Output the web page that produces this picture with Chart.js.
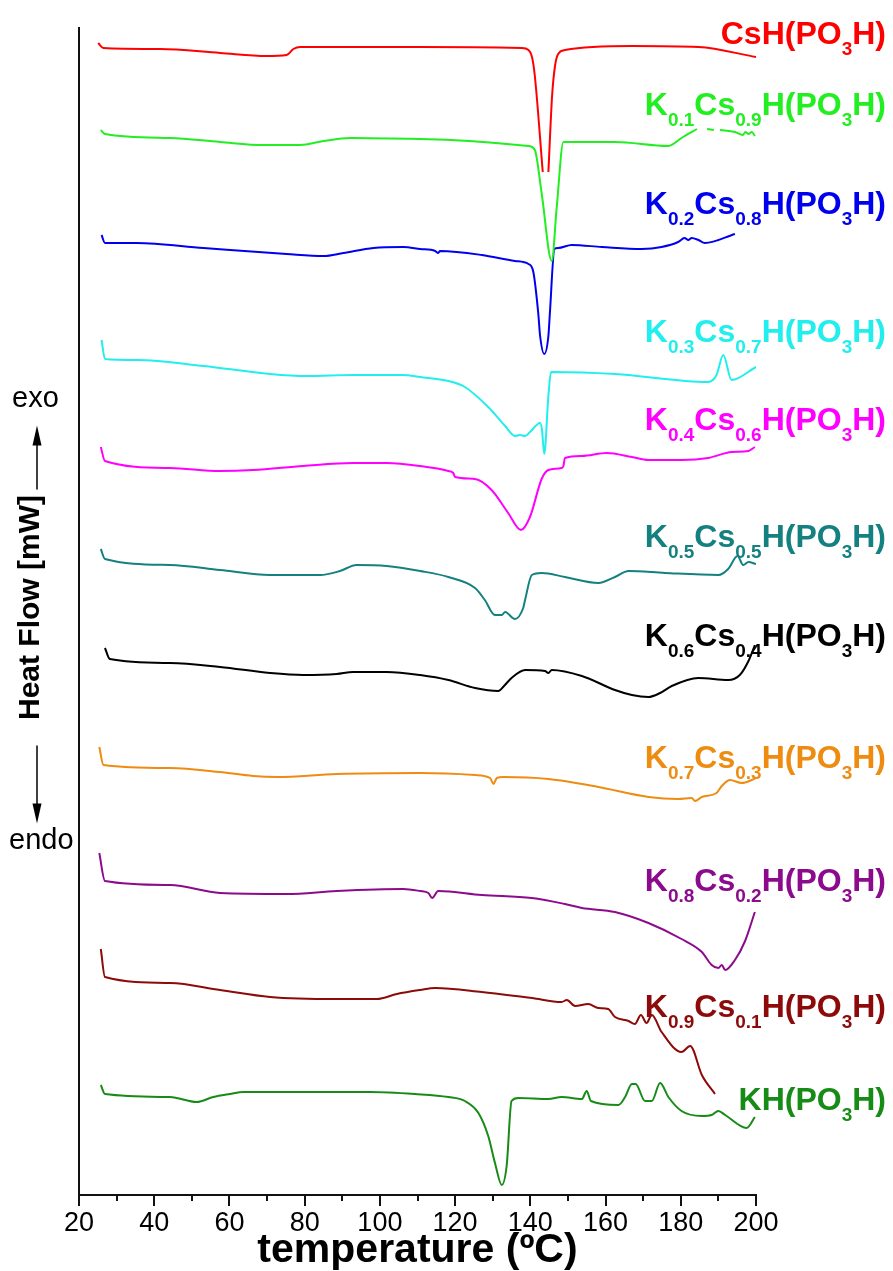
<!DOCTYPE html>
<html>
<head>
<meta charset="utf-8">
<script src="https://cdn.jsdelivr.net/npm/chart.js@4.4.1/dist/chart.umd.min.js"></script>
<style>
  html, body { margin: 0; padding: 0; background: #ffffff; }
  #wrap { width: 893px; height: 1271px; }
</style>
</head>
<body>
<div id="wrap"><canvas id="dsc" width="893" height="1271"></canvas></div>
<script>
// DSC heating curves of K(x)Cs(1-x)H(PO3H): [temperature °C, heat flow (stacked, arbitrary offset)]
// a null heat-flow value leaves a gap in the trace
const CsH = [[25.1,115.5],[26.5,115.0],[41.5,114.9],[57.5,114.5],[69.9,114.2],[75.2,114.3],[77.0,114.9],[78.8,115.1],[110.7,115.1],[137.7,115.0],[139.5,114.8],[140.5,114.0],[141.2,112.2],[143.3,102.6],[144.0,null],[144.8,102.6],[145.8,110.3],[146.6,113.3],[147.4,114.4],[149.2,114.8],[167.0,115.2],[184.7,115.1],[200.0,114.1]];
const K01 = [[25.8,106.8],[26.9,106.4],[44.2,106.0],[57.5,105.6],[69.0,105.3],[78.8,105.3],[85.0,105.7],[92.1,106.0],[110.7,105.9],[139.5,105.2],[141.2,104.8],[143.0,100.5],[145.7,93.7],[147.0,99.0],[148.8,105.6],[162.5,105.6],[176.7,105.2],[180.2,106.0],[184.3,106.9],[185.5,null],[187.0,106.9],[188.8,106.8],[189.6,null],[190.4,106.8],[194.4,106.6],[196.5,106.3],[197.2,106.6],[198.0,106.4],[198.9,106.6],[199.7,106.2]];
const K02 = [[26.0,96.3],[26.9,95.5],[35.3,95.5],[53.1,95.0],[75.2,94.4],[85.0,94.2],[90.3,94.5],[98.3,95.0],[106.2,95.1],[110.7,94.9],[114.7,94.7],[115.5,94.5],[116.0,94.7],[127.1,94.3],[135.9,93.7],[139.5,93.4],[140.8,92.6],[142.1,88.5],[142.6,86.2],[143.7,84.4],[144.8,86.2],[145.2,88.5],[146.4,94.9],[147.4,95.0],[151.0,95.3],[159.0,95.1],[169.6,94.9],[174.9,95.1],[179.3,95.6],[181.0,96.0],[182.0,95.8],[182.9,96.0],[184.7,95.8],[186.4,95.5],[194.4,96.4]];
const K03 = [[26.0,85.8],[26.9,83.9],[35.3,83.8],[53.1,83.2],[70.8,82.4],[80.5,82.2],[92.9,82.3],[106.2,82.3],[110.7,82.1],[118.2,81.7],[122.6,81.1],[128.8,79.1],[133.3,77.2],[135.9,76.2],[137.2,76.3],[138.6,76.2],[139.9,76.6],[142.6,77.5],[143.1,76.8],[143.7,74.4],[144.8,80.2],[145.5,82.6],[162.5,82.4],[187.3,81.6],[189.5,82.3],[191.3,84.3],[193.5,81.8],[200.0,83.1]];
const K04 = [[25.8,75.1],[26.9,73.7],[44.2,73.0],[57.5,72.7],[66.3,72.8],[79.6,73.2],[92.9,73.5],[101.8,73.5],[110.7,73.2],[118.2,72.7],[119.5,72.5],[120.0,72.1],[125.3,71.9],[129.7,70.8],[134.1,68.5],[137.5,66.8],[139.9,68.1],[143.0,71.9],[144.8,72.8],[148.3,73.0],[148.8,73.2],[149.2,74.0],[153.7,74.2],[160.3,74.5],[167.0,74.1],[171.4,73.8],[180.2,73.8],[187.3,74.0],[193.5,74.6],[198.0,74.7],[199.7,75.1]];
const K05 = [[25.8,64.9],[26.9,63.9],[44.2,63.3],[57.5,62.8],[70.8,62.3],[84.1,62.3],[89.4,62.7],[93.8,63.3],[101.8,63.2],[110.7,62.7],[118.2,62.1],[125.3,61.0],[127.9,59.8],[130.6,58.3],[132.4,58.3],[133.3,58.6],[135.9,57.9],[138.1,59.0],[138.6,59.8],[140.4,62.3],[143.0,62.5],[149.2,62.1],[158.1,61.5],[162.5,62.1],[166.1,62.7],[175.8,62.5],[190.0,62.3],[192.6,62.9],[195.1,64.2],[196.6,63.3],[198.0,63.6],[200.0,63.4]];
const K06 = [[26.9,55.0],[28.2,53.9],[44.2,53.5],[57.5,53.1],[70.8,52.5],[79.6,52.3],[88.5,52.4],[92.9,52.6],[101.8,52.6],[110.7,52.3],[118.2,51.8],[125.3,51.0],[131.5,50.7],[133.0,51.2],[135.0,52.0],[138.6,52.8],[143.9,52.7],[144.8,52.5],[145.7,52.8],[153.7,52.2],[162.5,50.8],[167.0,50.3],[171.4,50.1],[174.5,50.5],[177.6,51.2],[184.7,52.0],[192.6,51.8],[195.7,52.3],[198.0,53.7],[199.7,55.3]];
const K07 = [[25.4,45.1],[26.5,43.3],[44.2,43.0],[57.5,42.6],[66.3,42.2],[72.6,42.1],[88.5,42.4],[110.7,42.5],[125.3,42.3],[129.3,42.0],[130.2,41.4],[131.1,42.0],[132.8,42.1],[144.8,41.9],[158.1,41.1],[171.4,40.1],[179.3,39.9],[182.9,40.0],[183.8,39.7],[185.6,40.1],[189.5,40.5],[190.9,41.2],[193.1,41.8],[196.2,41.5],[198.9,41.8],[200.0,42.0]];
const K08 = [[25.4,34.5],[26.9,31.7],[44.2,31.3],[57.5,30.5],[75.2,30.4],[88.5,30.7],[106.2,30.9],[110.7,30.7],[112.9,30.5],[113.9,30.0],[115.5,30.7],[127.1,30.3],[140.4,30.0],[149.2,29.4],[153.7,29.0],[162.5,28.6],[171.4,27.5],[180.2,25.9],[185.6,24.6],[188.2,23.3],[190.0,23.0],[190.9,23.3],[191.8,22.8],[194.4,23.8],[197.1,25.7],[199.7,28.6]];
const K09 = [[25.8,24.9],[26.9,22.1],[44.2,21.5],[57.5,20.8],[70.8,20.1],[88.5,19.9],[99.2,19.9],[104.5,20.4],[110.7,20.8],[114.7,21.0],[127.1,20.6],[140.4,20.0],[148.3,19.6],[149.7,19.8],[151.9,19.2],[155.4,19.4],[158.1,19.0],[160.7,18.9],[162.5,18.1],[166.1,17.7],[167.8,17.4],[169.4,18.3],[170.9,17.5],[172.3,18.3],[174.9,16.6],[180.2,14.6],[182.5,15.2],[185.6,12.3],[189.1,10.4]];
const KH = [[25.8,11.3],[26.9,10.4],[44.2,10.1],[51.3,9.6],[55.7,10.1],[60.1,10.4],[63.7,10.6],[97.4,10.6],[109.3,10.4],[118.2,10.1],[122.6,9.7],[126.2,8.5],[128.8,6.2],[130.6,3.5],[132.4,1.3],[133.7,3.2],[135.0,9.7],[136.8,10.0],[144.8,9.9],[148.3,10.1],[153.7,9.9],[155.0,10.7],[156.1,9.7],[163.4,9.3],[165.2,10.1],[167.0,11.4],[168.0,11.4],[170.5,9.7],[172.3,9.7],[174.5,11.5],[176.7,10.1],[180.2,8.7],[185.6,8.2],[188.2,8.3],[190.0,8.7],[191.8,8.3],[197.5,7.0],[199.7,8.1]];

// sample names (_{...} marks a subscript) and the heat-flow level each name sits at
const seriesNames = ['CsH(PO_{3}H)', 'K_{0.1}Cs_{0.9}H(PO_{3}H)', 'K_{0.2}Cs_{0.8}H(PO_{3}H)', 'K_{0.3}Cs_{0.7}H(PO_{3}H)',
  'K_{0.4}Cs_{0.6}H(PO_{3}H)', 'K_{0.5}Cs_{0.5}H(PO_{3}H)', 'K_{0.6}Cs_{0.4}H(PO_{3}H)', 'K_{0.7}Cs_{0.3}H(PO_{3}H)',
  'K_{0.8}Cs_{0.2}H(PO_{3}H)', 'K_{0.9}Cs_{0.1}H(PO_{3}H)', 'KH(PO_{3}H)'];
const labelLevels = [115.4, 108.3, 98.4, 85.6, 76.8, 65.1, 55.2, 43.0, 30.7, 18.1, 8.8];

// temperature axis
const xTicks = [20, 40, 60, 80, 100, 120, 140, 160, 180, 200];
const xMinorTicks = [30, 50, 70, 90, 110, 130, 150, 170, 190];

const curves = [CsH, K01, K02, K03, K04, K05, K06, K07, K08, K09, KH];
const seriesColors = ['#ff0000', '#22ee22', '#0000ee', '#22eeee', '#ff00ff', '#148080', '#000000',
  '#ee8c11', '#8c0a8c', '#8c0a0a', '#168c16'];

const FONT = '"Liberation Sans", Arial, Helvetica, sans-serif';

// tick marks on the temperature axis: long at labelled values, short in between
const tickMarks = {
  id: 'tickMarks',
  afterDraw(chart) {
    const { ctx, chartArea, scales: { x } } = chart;
    ctx.save();
    ctx.strokeStyle = '#111';
    ctx.lineWidth = 2;
    const mark = (v, len) => {
      const px = Math.round(x.getPixelForValue(v));
      ctx.beginPath();
      ctx.moveTo(px, chartArea.bottom);
      ctx.lineTo(px, chartArea.bottom + len);
      ctx.stroke();
    };
    xTicks.forEach(v => mark(v, 11));
    xMinorTicks.forEach(v => mark(v, 6));
    ctx.restore();
  }
};

// sample names at the right of each trace, with subscripts
const curveLabels = {
  id: 'curveLabels',
  beforeDatasetsDraw(chart) {
    const { ctx, chartArea, scales: { y } } = chart;
    const mainFont = 'bold 32px ' + FONT;
    const subFont = 'bold 19px ' + FONT;
    ctx.save();
    ctx.textAlign = 'left';
    ctx.textBaseline = 'alphabetic';
    seriesNames.forEach((name, i) => {
      const parts = [];
      const re = /_\{([^}]*)\}/g;
      let last = 0, m;
      while ((m = re.exec(name))) {
        if (m.index > last) parts.push([name.slice(last, m.index), false]);
        parts.push([m[1], true]);
        last = re.lastIndex;
      }
      if (last < name.length) parts.push([name.slice(last), false]);
      let w = 0;
      parts.forEach(p => { ctx.font = p[1] ? subFont : mainFont; w += ctx.measureText(p[0]).width; });
      let px = chartArea.right + 130 - w;
      const base = y.getPixelForValue(labelLevels[i]);
      ctx.fillStyle = seriesColors[i];
      parts.forEach(p => {
        ctx.font = p[1] ? subFont : mainFont;
        ctx.fillText(p[0], px, p[1] ? base + 11 : base);
        px += ctx.measureText(p[0]).width;
      });
    });
    ctx.restore();
  }
};

// heat-flow axis caption with exo / endo arrows
const heatFlowCaption = {
  id: 'heatFlowCaption',
  afterDraw(chart) {
    const { ctx, chartArea } = chart;
    const mid = (chartArea.top + chartArea.bottom) / 2 - 4;
    ctx.save();
    ctx.fillStyle = '#000';
    ctx.strokeStyle = '#000';
    ctx.translate(31, mid);
    ctx.rotate(-Math.PI / 2);
    ctx.font = 'bold 30px ' + FONT;
    ctx.textAlign = 'center';
    ctx.textBaseline = 'middle';
    ctx.fillText('Heat Flow [mW]', 0, 0);
    ctx.restore();

    ctx.save();
    ctx.fillStyle = '#000';
    ctx.strokeStyle = '#000';
    ctx.lineWidth = 1.5;
    const arrow = (xp, y0, y1) => {
      const dir = Math.sign(y1 - y0);
      ctx.beginPath();
      ctx.moveTo(xp, y0);
      ctx.lineTo(xp, y1 - dir * 16);
      ctx.stroke();
      ctx.beginPath();
      ctx.moveTo(xp, y1);
      ctx.lineTo(xp - 4.5, y1 - dir * 20);
      ctx.lineTo(xp + 4.5, y1 - dir * 20);
      ctx.closePath();
      ctx.fill();
    };
    arrow(37, mid - 118, mid - 182);
    arrow(37, mid + 138, mid + 216);
    ctx.font = '29px ' + FONT;
    ctx.textAlign = 'left';
    ctx.textBaseline = 'alphabetic';
    ctx.fillText('exo', 12, mid - 201);
    ctx.fillText('endo', 9, mid + 241);
    ctx.restore();
  }
};

new Chart(document.getElementById('dsc'), {
  type: 'line',
  data: {
    datasets: curves.map((pts, i) => ({
      label: seriesNames[i],
      data: pts.map(p => ({ x: p[0], y: p[1] })),
      borderColor: seriesColors[i],
      borderWidth: 2,
      pointRadius: 0,
      fill: false,
      cubicInterpolationMode: 'monotone',
      spanGaps: false
    }))
  },
  options: {
    responsive: false,
    animation: false,
    devicePixelRatio: 1,
    layout: { padding: { top: 28, right: 137, left: 0, bottom: 0 } },
    plugins: { legend: { display: false }, tooltip: { enabled: false } },
    scales: {
      x: {
        type: 'linear',
        min: 20,
        max: 200,
        afterBuildTicks: s => { s.ticks = xTicks.map(v => ({ value: v })); },
        afterFit: s => { s.height = 76; },
        grid: { display: false, drawTicks: false },
        border: { display: true, color: '#111', width: 2 },
        ticks: { color: '#000', padding: 15, maxRotation: 0, font: { family: FONT, size: 27, lineHeight: 1.0 } },
        title: { display: true, text: 'temperature (ºC)', color: '#000', padding: { top: 0, bottom: 0 },
                 font: { family: FONT, size: 41, weight: 'bold', lineHeight: 1.0 } }
      },
      y: {
        min: 0.3,
        max: 117.0,
        afterFit: s => { s.width = 79; },
        grid: { display: false, drawTicks: false },
        border: { display: true, color: '#111', width: 2 },
        ticks: { display: false }
      }
    }
  },
  plugins: [tickMarks, curveLabels, heatFlowCaption]
});
</script>
</body>
</html>
